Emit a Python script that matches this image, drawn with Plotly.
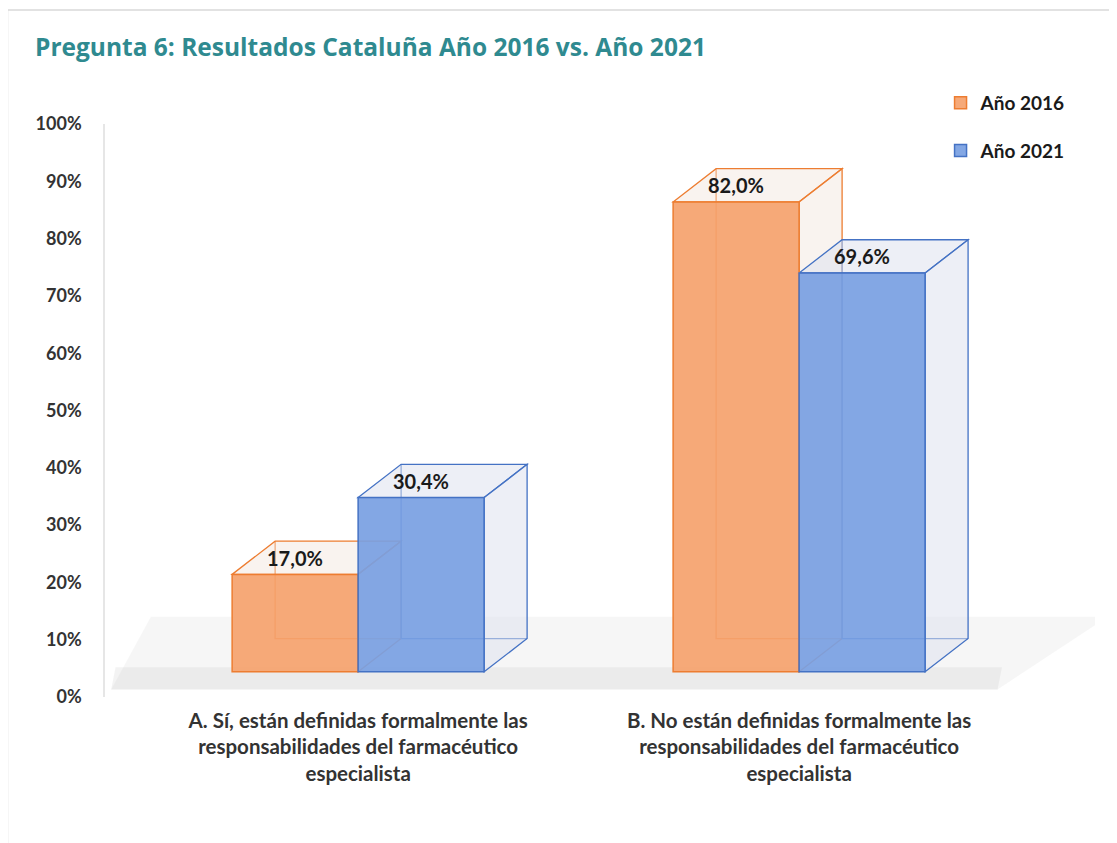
import plotly.graph_objects as go

# ---- data ----
categories = [
    "A. Sí, están definidas formalmente las<br>responsabilidades del farmacéutico<br>especialista",
    "B. No están definidas formalmente las<br>responsabilidades del farmacéutico<br>especialista",
]
series_names = ["Año 2016", "Año 2021"]
values_2016 = [17.0, 82.0]
values_2021 = [30.4, 69.6]
y_ticks = [0, 10, 20, 30, 40, 50, 60, 70, 80, 90, 100]
y_tick_labels = [f"{t}%" for t in y_ticks]

# ---- style ----
FONT = "Lato"
face_colors = ["rgba(245,162,108,0.92)", "rgba(120,160,226,0.92)"]
line_colors = ["#ED7D31", "#4472C4"]
side_colors = ["rgba(242,228,220,0.45)", "rgba(222,226,238,0.55)"]
BARGAP = 0.4286
W = (1 - BARGAP) / 2          # width of one bar in x units
BASE = 4.4                    # front-face floor offset (%)
DX = 0.0975                   # depth offset in x units
DY = 5.8                      # depth offset in % units

xpos = list(range(len(categories)))
series_vals = [values_2016, values_2021]

fig = go.Figure()
for s, (name, vals) in enumerate(zip(series_names, series_vals)):
    fig.add_trace(go.Bar(
        x=xpos, y=vals, base=BASE, name=name, legendgroup=name,
        marker=dict(color=face_colors[s], line=dict(color=line_colors[s], width=1.5)),
        hoverinfo="skip",
    ))

shapes = []
# outer chart border
shapes.append(dict(type="rect", xref="paper", yref="paper",
                   x0=-0.0985, y0=-0.30, x1=1.05, y1=1.199,
                   line=dict(color="#D9D9D9", width=1.5), fillcolor="rgba(0,0,0,0)", layer="below"))
# floor
shapes.append(dict(type="path", xref="x", yref="y",
                   path="M -0.56,1.3 L 1.45,1.3 L 1.70,14.0 L -0.47,14.0 Z",
                   fillcolor="rgba(200,200,200,0.16)", line=dict(width=0), layer="below"))
shapes.append(dict(type="path", xref="x", yref="y",
                   path="M -0.56,1.3 L 1.45,1.3 L 1.46,5.2 L -0.55,5.2 Z",
                   fillcolor="rgba(190,190,190,0.18)", line=dict(width=0), layer="below"))

for s, vals in enumerate(series_vals):
    for i, v in enumerate(vals):
        x0 = xpos[i] - W + s * W
        x1 = x0 + W
        top = BASE + v
        lc = dict(color=line_colors[s], width=1.3)
        # back edges
        shapes.append(dict(type="path", xref="x", yref="y", layer="below",
                           path=f"M {x0+DX},{top+DY} L {x0+DX},{BASE+DY} L {x1+DX},{BASE+DY}",
                           line=lc))
        # top face
        shapes.append(dict(type="path", xref="x", yref="y", layer="below",
                           path=f"M {x0},{top} L {x0+DX},{top+DY} L {x1+DX},{top+DY} L {x1},{top} Z",
                           fillcolor=side_colors[s], line=lc))
        # right face
        shapes.append(dict(type="path", xref="x", yref="y", layer="below",
                           path=f"M {x1},{BASE} L {x1+DX},{BASE+DY} L {x1+DX},{top+DY} L {x1},{top} Z",
                           fillcolor=side_colors[s], line=lc))

annotations = []
for s, vals in enumerate(series_vals):
    for i, v in enumerate(vals):
        xc = xpos[i] - W / 2 + s * W
        annotations.append(dict(x=xc, y=BASE + v + DY / 2, xref="x", yref="y",
                                text=f"{v:.1f}%".replace(".", ","), showarrow=False,
                                font=dict(family=FONT, size=20, color="#1a1a1a", weight="bold")))

fig.update_layout(
    width=1117, height=843,
    paper_bgcolor="white", plot_bgcolor="rgba(0,0,0,0)",
    margin=dict(l=97, r=30, t=116, b=154),
    barmode="group", bargap=BARGAP, bargroupgap=0,
    title=dict(text="Pregunta 6: Resultados Cataluña Año 2016 vs. Año 2021",
               x=27 / 1117, xanchor="left", xref="container",
               y=1 - 39 / 843, yanchor="middle", yref="container",
               font=dict(family="Open Sans", size=24.5, color="#2F8A90", weight="bold")),
    xaxis=dict(range=[-0.574, 1.671], tickvals=xpos, ticktext=categories,
               showgrid=False, zeroline=False, showline=False, ticks="",
               ticklabelstandoff=9,
               tickfont=dict(family=FONT, size=20.5, color="#333333", weight="bold")),
    yaxis=dict(range=[0, 100], tickvals=y_ticks, ticktext=y_tick_labels,
               showgrid=False, zeroline=False, showline=True, linecolor="#E6E6E6", linewidth=1.5,
               ticks="", ticklabelstandoff=18,
               tickfont=dict(family=FONT, size=18, color="#333333", weight="bold")),
    legend=dict(x=0.844, y=1.07, xanchor="left", yanchor="top",
                font=dict(family=FONT, size=19, color="#1a1a1a", weight="bold"),
                tracegroupgap=20, bgcolor="rgba(0,0,0,0)", itemclick=False),
    shapes=shapes, annotations=annotations,
)

fig.write_html("out.html")
